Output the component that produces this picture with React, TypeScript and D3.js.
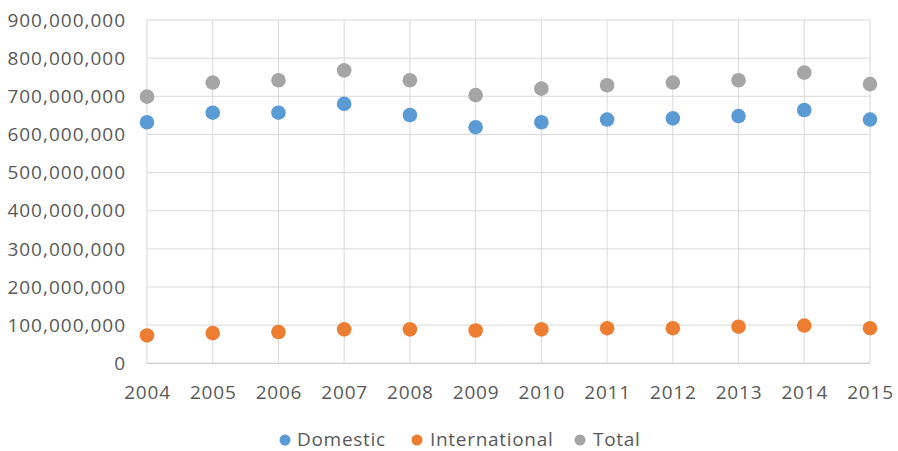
import React from "react";
import * as d3 from "d3";

const years = [2004, 2005, 2006, 2007, 2008, 2009, 2010, 2011, 2012, 2013, 2014, 2015];
const domestic = [632e6, 657e6, 657e6, 680e6, 651e6, 619e6, 632e6, 639e6, 642e6, 648e6, 664e6, 639e6];
const international = [73e6, 79e6, 82e6, 89e6, 89e6, 86e6, 89e6, 92e6, 92e6, 96e6, 99e6, 92e6];
const total = [699e6, 736e6, 742e6, 768e6, 742e6, 703e6, 720e6, 729e6, 736e6, 742e6, 762e6, 732e6];
const yTicks = [0, 1e8, 2e8, 3e8, 4e8, 5e8, 6e8, 7e8, 8e8, 9e8];

const seriesNames = ["Domestic", "International", "Total"];
const seriesColors = ["#5B9BD5", "#ED7D31", "#A5A5A5"];
const seriesValues = [domestic, international, total];

export default function App() {
  const W = 898, H = 451;
  const left = 147, right = 870, top = 20, bottom = 363.3;
  const x = d3.scaleLinear().domain([2004, 2015]).range([left, right]);
  const y = d3.scaleLinear().domain([0, 9e8]).range([bottom, top]);
  const fmt = d3.format(",");
  const font = "'Open Sans', sans-serif";
  const textColor = "#595959";

  const legendItems = [
    { dot: 285, text: 297 },
    { dot: 417, text: 430 },
    { dot: 580, text: 593 },
  ];

  return (
    <svg width={W} height={H} style={{ position: "absolute", left: 0, top: 0, background: "#fff" }}>
      {yTicks.map((t) => (
        <line key={"h" + t} x1={left} x2={right} y1={y(t)} y2={y(t)} stroke={t === 0 ? "#bfbfbf" : "#d9d9d9"} strokeWidth={1} />
      ))}
      {years.map((yr) => (
        <line key={"v" + yr} x1={x(yr)} x2={x(yr)} y1={top} y2={bottom} stroke="#d9d9d9" strokeWidth={1} />
      ))}
      {yTicks.map((t) => (
        <text key={"yl" + t} x={126} y={y(t)} dy="0.35em" textAnchor="end" fontFamily={font} fontSize={19} letterSpacing={1} fill={textColor}>
          {fmt(t)}
        </text>
      ))}
      {years.map((yr) => (
        <text key={"xl" + yr} x={x(yr) + 0.5} y={399} textAnchor="middle" fontFamily={font} fontSize={19} letterSpacing={0.8} fill={textColor}>
          {yr}
        </text>
      ))}
      {seriesValues.map((vals, si) => (
        <g key={"s" + si}>
          {vals.map((v, i) => (
            <circle key={i} cx={x(years[i])} cy={y(v)} r={7.3} fill={seriesColors[si]} />
          ))}
        </g>
      ))}
      {seriesNames.map((name, i) => (
        <g key={"lg" + name}>
          <circle cx={legendItems[i].dot} cy={440} r={5.5} fill={seriesColors[i]} />
          <text x={legendItems[i].text} y={446} fontFamily={font} fontSize={19} letterSpacing={0.7} fill={textColor}>
            {name}
          </text>
        </g>
      ))}
    </svg>
  );
}
